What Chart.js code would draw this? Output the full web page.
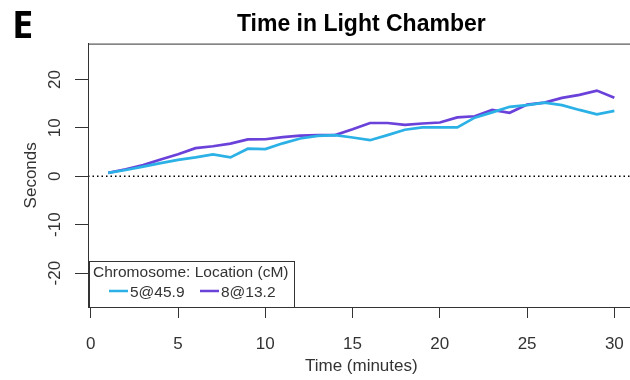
<!DOCTYPE html>
<html>
<head>
<meta charset="utf-8">
<script src="https://cdn.jsdelivr.net/npm/chart.js@4.4.1/dist/chart.umd.min.js"></script>
<style>
  html, body { margin: 0; padding: 0; background: #fff; overflow: hidden; }
  #wrap { position: relative; width: 640px; height: 380px; }
</style>
</head>
<body>
<div id="wrap"><canvas id="chart" width="640" height="380"></canvas></div>
<script>
// time in light chamber, per QTL genotype
const minutes = [1, 2, 3, 4, 5, 6, 7, 8, 9, 10, 11, 12, 13, 14, 15,
                 16, 17, 18, 19, 20, 21, 22, 23, 24, 25, 26, 27, 28, 29, 30];
const chr5 = [0.7, 1.3, 2.0, 2.7, 3.4, 3.9, 4.5, 3.9, 5.7, 5.6, 6.8, 7.8, 8.35, 8.5, 8.0,
              7.45, 8.5, 9.6, 10.1, 10.1, 10.1, 12.1, 13.2, 14.35, 14.7, 15.2, 14.7, 13.7, 12.8, 13.5];
const chr8 = [0.7, 1.45, 2.3, 3.45, 4.55, 5.8, 6.2, 6.75, 7.6, 7.65, 8.1, 8.4, 8.5, 8.5, 9.7,
              11.0, 11.0, 10.6, 10.9, 11.1, 12.15, 12.4, 13.7, 13.1, 14.8, 15.2, 16.2, 16.8, 17.7, 16.2];
const seriesNames = ['5@45.9', '8@13.2'];
const seriesColors = ['#2bb1e5', '#6a42da'];
const xTicks = [0, 5, 10, 15, 20, 25, 30];
const yTicks = [-20, -10, 0, 10, 20];
const xRange = [-0.16, 31.16];
const yRange = [-27, 27.4];

const FONT = '"Liberation Sans", Arial, sans-serif';
const INK = '#333';

function pts(ys) {
  return minutes.map((m, i) => ({ x: m, y: ys[i] }));
}

// R-style extras: boxed plot, upright y labels, panel letter, legend in the corner
const extras = {
  id: 'extras',
  afterDraw(chart) {
    const ctx = chart.ctx;
    const ca = chart.chartArea;
    const ys = chart.scales.y;
    ctx.save();

    ctx.strokeStyle = INK;
    ctx.lineWidth = 1;
    ctx.strokeRect(ca.left + 0.5, ca.top + 0.5, ca.right - ca.left, ca.bottom - ca.top);

    ctx.fillStyle = INK;
    ctx.font = '17px ' + FONT;
    ctx.textAlign = 'center';
    ctx.textBaseline = 'middle';
    yTicks.forEach(v => {
      const y = ys.getPixelForValue(v);
      ctx.save();
      ctx.translate(55, y);
      ctx.rotate(-Math.PI / 2);
      ctx.fillText(String(v), 0, 0);
      ctx.restore();
    });

    ctx.fillStyle = '#000';
    ctx.font = 'bold 38px "Open Sans", ' + FONT;
    ctx.textAlign = 'left';
    ctx.textBaseline = 'alphabetic';
    ctx.fillText('E', 12, 38);

    // legend box
    const lx = ca.left + 1, lw = 205, lh = 46;
    const ly = ca.bottom - lh;
    ctx.fillStyle = '#fff';
    ctx.fillRect(lx, ly, lw, lh);
    ctx.strokeStyle = INK;
    ctx.strokeRect(lx + 0.5, ly + 0.5, lw, lh);
    ctx.fillStyle = INK;
    ctx.font = '15.5px ' + FONT;
    ctx.fillText('Chromosome: Location (cM)', lx + 4, ly + 16);
    const ex = [lx + 20, lx + 111];
    seriesNames.forEach((name, i) => {
      ctx.strokeStyle = seriesColors[i];
      ctx.lineWidth = 2.5;
      ctx.beginPath();
      ctx.moveTo(ex[i], ly + 30);
      ctx.lineTo(ex[i] + 19, ly + 30);
      ctx.stroke();
      ctx.fillStyle = INK;
      ctx.fillText(name, ex[i] + 21, ly + 36);
    });
    ctx.restore();
  }
};

new Chart(document.getElementById('chart'), {
  type: 'line',
  data: {
    datasets: [
      {
        label: 'zero',
        data: [{ x: xRange[0], y: 0 }, { x: xRange[1], y: 0 }],
        borderColor: '#000',
        borderWidth: 1.5,
        borderDash: [1.5, 3],
        pointRadius: 0
      },
      {
        label: seriesNames[0],
        data: pts(chr5),
        borderColor: seriesColors[0],
        borderWidth: 2.7,
        pointRadius: 0,
        tension: 0
      },
      {
        label: seriesNames[1],
        data: pts(chr8),
        borderColor: seriesColors[1],
        borderWidth: 2.7,
        pointRadius: 0,
        tension: 0
      }
    ]
  },
  options: {
    responsive: false,
    animation: false,
    layout: { padding: { left: 0, right: 3, top: 0, bottom: 0 } },
    plugins: {
      legend: { display: false },
      tooltip: { enabled: false },
      title: {
        display: true,
        text: 'Time in Light Chamber',
        fullSize: false,
        color: '#000',
        font: { family: FONT, size: 23, weight: 'bold' },
        padding: { top: 11, bottom: 5 }
      }
    },
    scales: {
      x: {
        type: 'linear',
        position: 'bottom',
        min: xRange[0],
        max: xRange[1],
        afterBuildTicks: s => { s.ticks = xTicks.map(v => ({ value: v })); },
        afterFit: s => { s.height = 73; },
        grid: { drawOnChartArea: false, drawTicks: true, tickLength: 11, color: INK },
        border: { display: true, color: INK, width: 1 },
        ticks: { color: INK, font: { family: FONT, size: 17 }, padding: 16, maxRotation: 0, autoSkip: false },
        title: { display: true, text: 'Time (minutes)', color: INK, font: { family: FONT, size: 17 }, padding: { top: 0, bottom: 3 } }
      },
      y: {
        type: 'linear',
        position: 'left',
        min: yRange[0],
        max: yRange[1],
        afterBuildTicks: s => { s.ticks = yTicks.map(v => ({ value: v })); },
        afterFit: s => { s.width = 88; },
        grid: { drawOnChartArea: false, drawTicks: true, tickLength: 13, color: INK },
        border: { display: true, color: INK, width: 1 },
        ticks: { color: 'rgba(0,0,0,0)', font: { family: FONT, size: 17 } },
        title: { display: true, text: 'Seconds', color: INK, font: { family: FONT, size: 17 }, padding: { top: 21, bottom: 0 } }
      }
    }
  },
  plugins: [extras]
});
</script>
</body>
</html>
